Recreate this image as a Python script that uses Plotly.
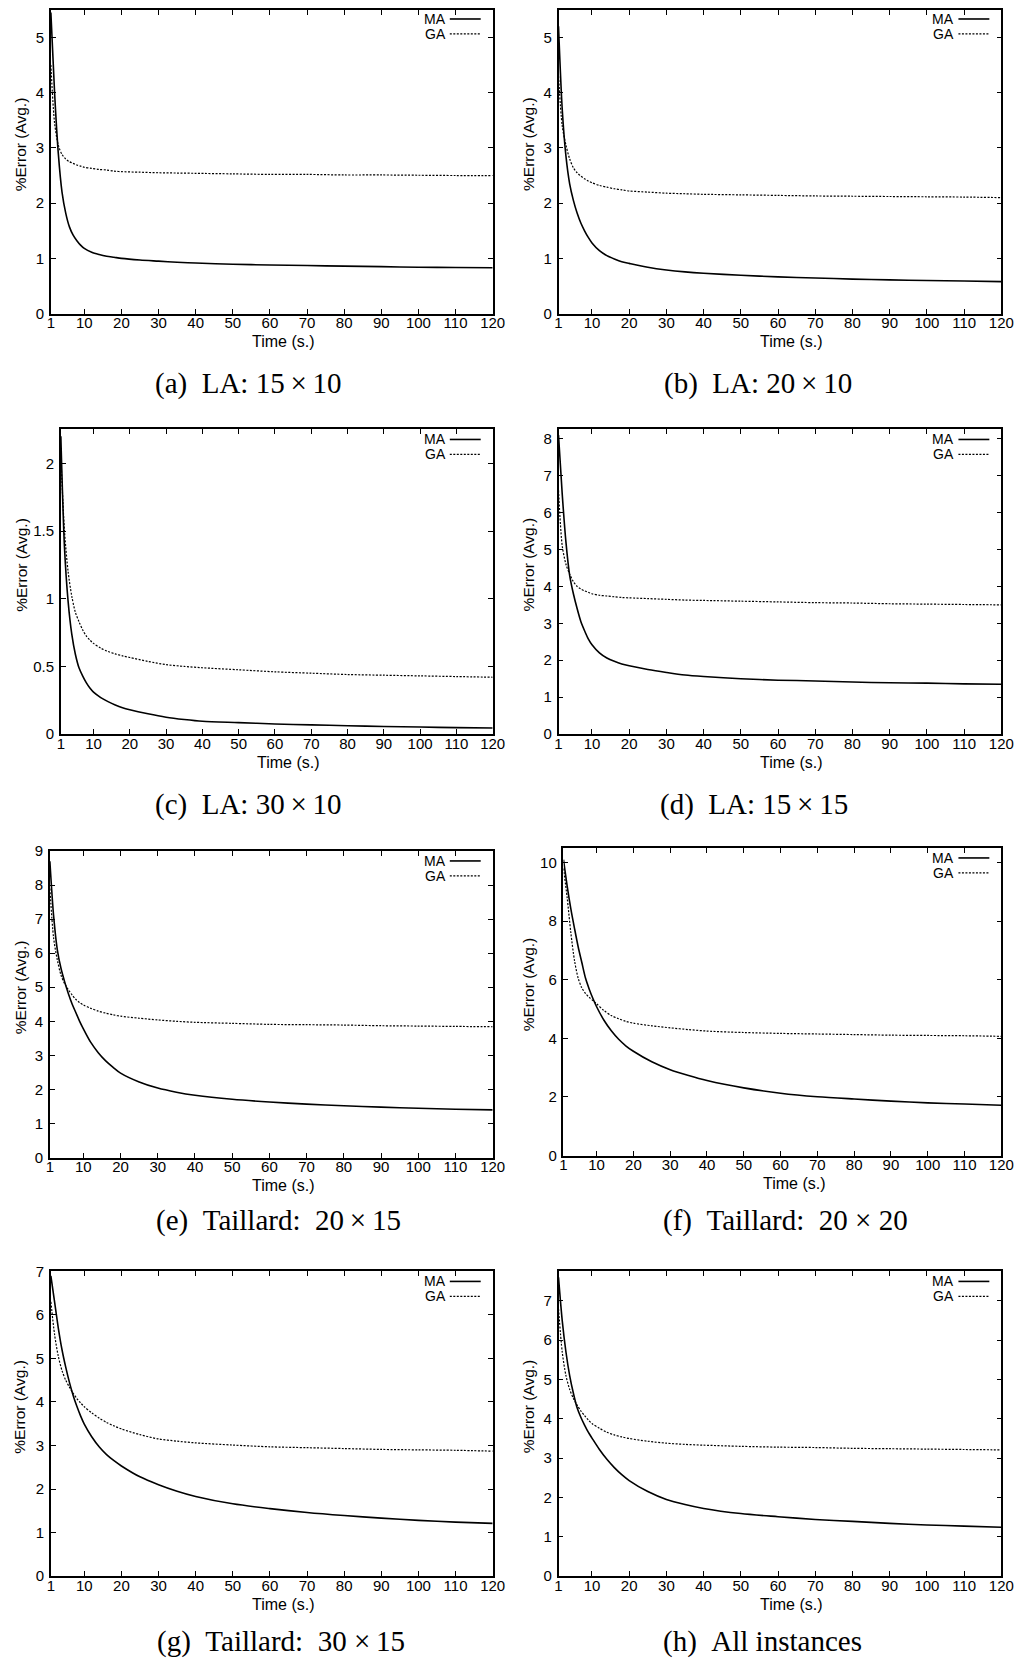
import plotly.graph_objects as go

# ---------------- data ----------------
TIME = [1, 2, 3, 4, 5, 6, 7, 8, 9, 10, 12, 14, 16, 18, 20, 25, 30, 35, 40, 50, 60, 70, 80, 90, 100, 110, 120]
X_TICKS = [1, 10, 20, 30, 40, 50, 60, 70, 80, 90, 100, 110, 120]
SERIES_NAMES = ["MA", "GA"]

MA_LA_15x10 = [5.45, 4.0, 2.9, 2.2, 1.82, 1.57, 1.42, 1.32, 1.24, 1.18, 1.11, 1.07, 1.04, 1.02, 1.0, 0.97, 0.95, 0.93, 0.915, 0.895, 0.88, 0.87, 0.86, 0.85, 0.84, 0.835, 0.83]
GA_LA_15x10 = [4.5, 3.45, 3.05, 2.88, 2.8, 2.75, 2.72, 2.69, 2.67, 2.65, 2.63, 2.61, 2.6, 2.58, 2.57, 2.56, 2.55, 2.545, 2.54, 2.53, 2.52, 2.52, 2.51, 2.51, 2.505, 2.5, 2.5]

MA_LA_20x10 = [5.2, 3.7, 2.85, 2.35, 2.05, 1.82, 1.64, 1.5, 1.38, 1.28, 1.14, 1.05, 0.99, 0.94, 0.91, 0.84, 0.79, 0.755, 0.73, 0.695, 0.665, 0.645, 0.625, 0.61, 0.6, 0.59, 0.58]
GA_LA_20x10 = [4.3, 3.4, 3.05, 2.8, 2.64, 2.55, 2.49, 2.44, 2.4, 2.37, 2.32, 2.29, 2.26, 2.24, 2.22, 2.2, 2.18, 2.17, 2.16, 2.15, 2.14, 2.13, 2.125, 2.12, 2.115, 2.11, 2.1]

MA_LA_30x10 = [2.2, 1.38, 0.98, 0.74, 0.59, 0.49, 0.43, 0.38, 0.34, 0.31, 0.27, 0.24, 0.215, 0.195, 0.18, 0.15, 0.125, 0.108, 0.095, 0.085, 0.075, 0.068, 0.062, 0.056, 0.052, 0.048, 0.045]
GA_LA_30x10 = [2.05, 1.5, 1.2, 1.02, 0.9, 0.83, 0.77, 0.725, 0.695, 0.67, 0.635, 0.61, 0.592, 0.578, 0.566, 0.537, 0.513, 0.5, 0.49, 0.475, 0.46, 0.45, 0.44, 0.435, 0.43, 0.425, 0.42]

MA_LA_15x15 = [8.1, 6.5, 5.2, 4.3, 3.8, 3.4, 3.05, 2.8, 2.58, 2.42, 2.2, 2.06, 1.97, 1.9, 1.85, 1.75, 1.67, 1.6, 1.56, 1.5, 1.46, 1.44, 1.41, 1.39, 1.38, 1.36, 1.35]
GA_LA_15x15 = [6.6, 5.1, 4.6, 4.33, 4.13, 4.0, 3.93, 3.88, 3.84, 3.8, 3.76, 3.74, 3.72, 3.7, 3.69, 3.67, 3.65, 3.63, 3.62, 3.6, 3.58, 3.56, 3.55, 3.53, 3.52, 3.51, 3.5]

MA_TA_20x15 = [8.7, 7.1, 6.1, 5.55, 5.15, 4.8, 4.5, 4.25, 4.0, 3.78, 3.38, 3.08, 2.84, 2.65, 2.48, 2.22, 2.04, 1.92, 1.83, 1.71, 1.63, 1.57, 1.52, 1.48, 1.45, 1.42, 1.4]
GA_TA_20x15 = [7.9, 6.45, 5.8, 5.35, 5.1, 4.92, 4.77, 4.64, 4.55, 4.48, 4.38, 4.3, 4.24, 4.19, 4.15, 4.09, 4.04, 4.0, 3.97, 3.94, 3.91, 3.9, 3.89, 3.87, 3.86, 3.85, 3.84]

MA_TA_20x20 = [10.1, 9.2, 8.42, 7.75, 7.12, 6.58, 6.05, 5.68, 5.36, 5.08, 4.62, 4.26, 3.97, 3.74, 3.56, 3.2, 2.93, 2.73, 2.56, 2.31, 2.13, 2.01, 1.93, 1.86, 1.8, 1.76, 1.72]
GA_TA_20x20 = [9.8, 8.8, 7.6, 6.65, 6.05, 5.72, 5.53, 5.4, 5.29, 5.18, 4.95, 4.78, 4.67, 4.58, 4.52, 4.43, 4.36, 4.3, 4.25, 4.2, 4.17, 4.15, 4.13, 4.11, 4.1, 4.09, 4.07]

MA_TA_30x15 = [6.9, 6.3, 5.7, 5.2, 4.8, 4.45, 4.15, 3.9, 3.68, 3.49, 3.2, 2.97, 2.79, 2.65, 2.53, 2.28, 2.1, 1.95, 1.83, 1.66, 1.55, 1.46, 1.39, 1.33, 1.28, 1.24, 1.21]
GA_TA_30x15 = [6.3, 5.55, 5.05, 4.72, 4.5, 4.34, 4.2, 4.08, 3.98, 3.89, 3.75, 3.63, 3.53, 3.45, 3.38, 3.25, 3.15, 3.1, 3.06, 3.01, 2.97, 2.95, 2.93, 2.91, 2.9, 2.89, 2.87]

MA_ALL = [7.6, 6.5, 5.7, 5.1, 4.65, 4.28, 4.04, 3.84, 3.66, 3.51, 3.22, 2.97, 2.76, 2.58, 2.43, 2.15, 1.95, 1.82, 1.72, 1.59, 1.51, 1.44, 1.39, 1.34, 1.3, 1.27, 1.24]
GA_ALL = [6.8, 5.7, 5.1, 4.75, 4.52, 4.35, 4.2, 4.08, 3.97, 3.88, 3.76, 3.66, 3.59, 3.54, 3.5, 3.43, 3.38, 3.35, 3.33, 3.3, 3.28, 3.27, 3.25, 3.24, 3.23, 3.22, 3.21]

CAPTIONS = ["(a)\u2002LA: 15\u2009\u00d7\u200910", "(b)\u2002LA: 20\u2009\u00d7\u200910",
            "(c)\u2002LA: 30\u2009\u00d7\u200910", "(d)\u2002LA: 15\u2009\u00d7\u200915",
            "(e)\u2002Taillard:\u200220\u2009\u00d7\u200915", "(f)\u2002Taillard:\u200220 \u00d7 20",
            "(g)\u2002Taillard:\u200230 \u00d7\u200915", "(h)\u2002All instances"]
Y_MAX = [5.5, 5.5, 2.25, 8.25, 9, 10.5, 7, 7.75]
Y_TICKS = [[0, 1, 2, 3, 4, 5], [0, 1, 2, 3, 4, 5], [0, 0.5, 1, 1.5, 2],
           [0, 1, 2, 3, 4, 5, 6, 7, 8], [0, 1, 2, 3, 4, 5, 6, 7, 8, 9],
           [0, 2, 4, 6, 8, 10], [0, 1, 2, 3, 4, 5, 6, 7], [0, 1, 2, 3, 4, 5, 6, 7]]
Y_TICK_TEXT = [[str(v) for v in t] for t in Y_TICKS]
PANELS = [(MA_LA_15x10, GA_LA_15x10), (MA_LA_20x10, GA_LA_20x10),
          (MA_LA_30x10, GA_LA_30x10), (MA_LA_15x15, GA_LA_15x15),
          (MA_TA_20x15, GA_TA_20x15), (MA_TA_20x20, GA_TA_20x20),
          (MA_TA_30x15, GA_TA_30x15), (MA_ALL, GA_ALL)]

# ---------------- geometry (target pixels in the picture) ----------------
FIG_W, FIG_H = 1021, 1662
# measured mapping page -> picture (picture = O + S * page)
SX, OX = 0.986, 2.0
SY, OY = 0.991, 7.0
BOX = [(49, 492, 7, 312), (558, 1002, 7, 312),
       (59, 492, 428, 733), (558, 1002, 428, 733),
       (48, 492, 850, 1157), (563, 1002, 847, 1155),
       (49, 492, 1271, 1576), (558, 1002, 1271, 1576)]
CAPTION_POS = [(247, 382), (758, 382), (247, 803), (754, 803),
               (277, 1220), (786, 1220), (280, 1642), (763, 1642)]
YLABEL_X = [18, 528, 20, 528, 18, 528, 18, 528]

SANS = "Liberation Sans, Arial, Helvetica, sans-serif"
SERIF = "Liberation Serif, Times New Roman, serif"


def px(x):
    return ((x - OX) / SX) / FIG_W


def py(y):
    return 1 - ((y - OY) / SY) / FIG_H


fig = go.Figure()
annotations = []
shapes = []
layout = {}

for i, ((ma, ga), (l, r, t, b)) in enumerate(zip(PANELS, BOX)):
    k = i + 1
    xa = "x" if k == 1 else f"x{k}"
    ya = "y" if k == 1 else f"y{k}"
    fig.add_trace(go.Scatter(x=TIME, y=ma, mode="lines", name=SERIES_NAMES[0],
                             line=dict(color="black", width=1.6, shape="spline", smoothing=0.8),
                             xaxis=xa, yaxis=ya, showlegend=False))
    fig.add_trace(go.Scatter(x=TIME, y=ga, mode="lines", name=SERIES_NAMES[1],
                             line=dict(color="black", width=1.2, dash="2px,1.5px", shape="spline", smoothing=0.8),
                             xaxis=xa, yaxis=ya, showlegend=False))
    common = dict(showgrid=False, zeroline=False, showline=True, linecolor="black", linewidth=1.5,
                  mirror="ticks", ticks="inside", ticklen=5, tickwidth=1, tickcolor="black",
                  tickfont=dict(family=SANS, size=15, color="black"))
    top = min(py(t), 1 - 0.8 / FIG_H)
    layout[f"xaxis{'' if k == 1 else k}"] = dict(domain=[px(l), px(r)], anchor=ya, range=[1, 120],
                                                  tickvals=X_TICKS, ticklabelstandoff=-5, **common)
    layout[f"yaxis{'' if k == 1 else k}"] = dict(domain=[py(b), top], anchor=xa, range=[0, Y_MAX[i]],
                                                  tickvals=Y_TICKS[i], ticktext=Y_TICK_TEXT[i],
                                                  ticklabelstandoff=2, **common)
    # axis titles
    annotations.append(dict(x=px((l + r) / 2 + 12), y=py(b + 28), xref="paper", yref="paper",
                            text="Time (s.)", showarrow=False, xanchor="center", yanchor="middle",
                            font=dict(family=SANS, size=16, color="black")))
    annotations.append(dict(x=px(YLABEL_X[i]), y=py((t + b) / 2 - 17), xref="paper", yref="paper",
                            text="%Error (Avg.)", showarrow=False, textangle=-90,
                            xanchor="center", yanchor="middle",
                            font=dict(family=SANS, size=15.5, color="black")))
    # caption
    cx, cy = CAPTION_POS[i]
    annotations.append(dict(x=px(cx), y=py(cy), xref="paper", yref="paper", text=CAPTIONS[i],
                            showarrow=False, xanchor="center", yanchor="middle",
                            font=dict(family=SERIF, size=29, color="black")))
    # gnuplot-style key
    for j, (name, dash, w) in enumerate([(SERIES_NAMES[0], "solid", 1.6), (SERIES_NAMES[1], "2px,1.5px", 1.2)]):
        yy = t + 10 + 15 * j
        annotations.append(dict(x=px(r - 45), y=py(yy), xref="paper", yref="paper", text=name,
                                showarrow=False, xanchor="right", yanchor="middle",
                                font=dict(family=SANS, size=14, color="black")))
        shapes.append(dict(type="line", xref="paper", yref="paper", x0=px(r - 43), x1=px(r - 12),
                           y0=py(yy), y1=py(yy), line=dict(color="black", width=w, dash=dash)))

fig.update_layout(width=FIG_W, height=FIG_H, margin=dict(l=0, r=0, t=0, b=0),
                  paper_bgcolor="white", plot_bgcolor="white", showlegend=False,
                  annotations=annotations, shapes=shapes, **layout)

fig.write_html("out.html", config={"displayModeBar": False},
               post_script="document.documentElement.style.margin='0px';document.body.style.margin='0px';")
